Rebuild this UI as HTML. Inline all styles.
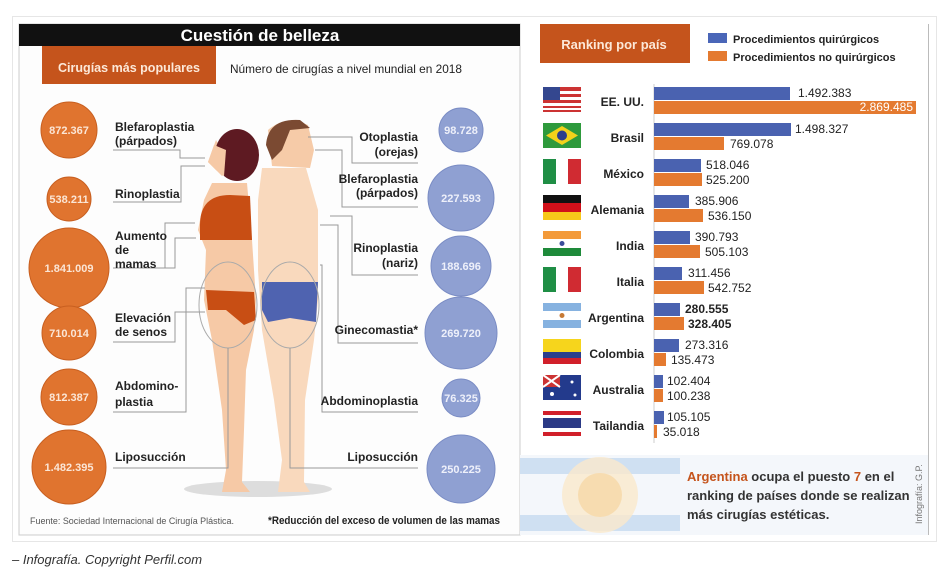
<!DOCTYPE html>
<html><head><meta charset="utf-8"><style>
body{margin:0;background:#fff;}
svg{display:block;font-family:"Liberation Sans",sans-serif;}
.b{font-weight:bold;}
</style></head><body>
<svg width="946" height="574" viewBox="0 0 946 574" xmlns="http://www.w3.org/2000/svg">
<rect x="0" y="0" width="946" height="574" fill="#fff"/>
<rect x="12.5" y="16.5" width="924" height="525" fill="#fff" stroke="#e6e6e6"/>
<!-- left panel -->
<rect x="19" y="24" width="501" height="511" fill="#fdfdfd" stroke="#ccc"/>
<rect x="19" y="24" width="501" height="22" fill="#111"/>
<text x="260" y="41" text-anchor="middle" fill="#fff" font-size="17" class="b">Cuestión de belleza</text>
<rect x="42" y="46" width="174" height="38" fill="#c5541c"/>
<text x="129" y="72" text-anchor="middle" fill="#fce8d8" font-size="13" class="b" textLength="142" lengthAdjust="spacingAndGlyphs">Cirugías más populares</text>
<text x="230" y="73" fill="#222" font-size="12" textLength="232" lengthAdjust="spacingAndGlyphs">Número de cirugías a nivel mundial en 2018</text>

<!-- figures -->
<ellipse cx="258" cy="489" rx="74" ry="8" fill="#ddd"/>
<!-- woman -->
<path d="M212 183 L247 183 L252 240 L256 300 L254 330 L246 370 L244 430 L242 482 L250 492 L222 492 L226 470 L222 410 L212 340 L204 300 L206 250 L198 230 L204 200 Z" fill="#f6c9a6"/>
<path d="M200 225 Q200 195 230 195 L250 196 L252 240 L200 240 Z" fill="#c84e14"/>
<path d="M206 290 L254 292 L256 320 L244 325 L226 310 L208 310 Z" fill="#c84e14"/>
<path d="M216 140 L208 162 L214 168 L222 176 L232 168 Z" fill="#f6c9a6"/>
<ellipse cx="237" cy="155" rx="22" ry="26" fill="#5e1a22"/>
<path d="M214 145 L208 162 L216 170 L224 176 L226 150 Z" fill="#f6c9a6"/>
<!-- man -->
<path d="M262 168 L306 168 L318 210 L318 300 L314 340 L305 400 L304 482 L310 492 L278 492 L282 460 L274 400 L262 330 L258 270 L258 200 Z" fill="#f9d9bd"/>
<path d="M262 282 L318 282 L316 322 L290 318 L268 322 L262 310 Z" fill="#4f63b0"/>
<path d="M268 130 Q285 115 308 125 L314 150 L310 168 L272 166 Z" fill="#f6cba8"/>
<path d="M266 145 Q268 118 300 120 L310 128 L290 130 L282 150 L272 160 Z" fill="#7b4a32"/>
<ellipse cx="228" cy="305" rx="29" ry="43" fill="none" stroke="#aaa"/>
<ellipse cx="290" cy="305" rx="29" ry="43" fill="none" stroke="#aaa"/>

<!-- leader lines -->
<g fill="none" stroke="#999" stroke-width="1">
<polyline points="113,150 180,150 180,158 205,158"/>
<polyline points="113,202 181,202 181,166 205,166"/>
<polyline points="113,268 165,268 165,223 195,223"/>
<polyline points="113,268 175,268 175,238 196,238"/>
<polyline points="113,342 175,342 175,312 205,312"/>
<polyline points="113,412 186,412 186,288 205,288"/>
<polyline points="113,468 228,468 228,348"/>
<polyline points="418,163 352,163 352,137 308,137"/>
<polyline points="418,207 342,207 342,150 315,150"/>
<polyline points="418,275 352,275 352,216 330,216"/>
<polyline points="418,343 338,343 338,225 320,225"/>
<polyline points="418,412 322,412 322,265 320,265"/>
<polyline points="418,468 290,468 290,348"/>
</g>
<!-- left labels -->
<g font-size="12" class="b" fill="#222">
<text x="115" y="131">Blefaroplastia</text><text x="115" y="145">(párpados)</text>
<text x="115" y="198">Rinoplastia</text>
<text x="115" y="240">Aumento</text><text x="115" y="254">de</text><text x="115" y="268">mamas</text>
<text x="115" y="322">Elevación</text><text x="115" y="336">de senos</text>
<text x="115" y="390">Abdomino-</text><text x="115" y="406">plastia</text>
<text x="115" y="461">Liposucción</text>
</g>
<g font-size="12" class="b" fill="#222" text-anchor="end">
<text x="418" y="141">Otoplastia</text><text x="418" y="156">(orejas)</text>
<text x="418" y="183">Blefaroplastia</text><text x="418" y="197">(párpados)</text>
<text x="418" y="252">Rinoplastia</text><text x="418" y="267">(nariz)</text>
<text x="418" y="334">Ginecomastia*</text>
<text x="418" y="405">Abdominoplastia</text>
<text x="418" y="461">Liposucción</text>
</g>
<!-- circles -->
<g fill="#e0742f" stroke="#c85f20">
<circle cx="69" cy="130" r="28"/><circle cx="69" cy="199" r="22"/><circle cx="69" cy="268" r="40"/>
<circle cx="69" cy="333" r="27"/><circle cx="69" cy="397" r="28"/><circle cx="69" cy="467" r="37"/>
</g>
<g fill="#8fa0d2" stroke="#7a8cc4">
<circle cx="461" cy="130" r="22"/><circle cx="461" cy="198" r="33"/><circle cx="461" cy="266" r="30"/>
<circle cx="461" cy="333" r="36"/><circle cx="461" cy="398" r="19"/><circle cx="461" cy="469" r="34"/>
</g>
<g font-size="11" class="b" fill="#fbe6d6" text-anchor="middle">
<text x="69" y="134">872.367</text><text x="69" y="203">538.211</text><text x="69" y="272">1.841.009</text>
<text x="69" y="337">710.014</text><text x="69" y="401">812.387</text><text x="69" y="471">1.482.395</text>
</g>
<g font-size="11" class="b" fill="#eef0fa" text-anchor="middle">
<text x="461" y="134">98.728</text><text x="461" y="202">227.593</text><text x="461" y="270">188.696</text>
<text x="461" y="337">269.720</text><text x="461" y="402">76.325</text><text x="461" y="473">250.225</text>
</g>
<text x="30" y="524" font-size="9" fill="#555" textLength="204" lengthAdjust="spacingAndGlyphs">Fuente: Sociedad Internacional de Cirugía Plástica.</text>
<text x="268" y="524" font-size="11" class="b" fill="#222" textLength="232" lengthAdjust="spacingAndGlyphs">*Reducción del exceso de volumen de las mamas</text>

<!-- right panel -->
<line x1="928.5" y1="24" x2="928.5" y2="535" stroke="#bbb"/>
<rect x="540" y="24" width="150" height="39" fill="#c5541c"/>
<text x="614" y="49" text-anchor="middle" fill="#fce8d8" font-size="13" class="b">Ranking por país</text>
<rect x="708" y="33" width="19" height="10" fill="#4a66b8"/>
<rect x="708" y="51" width="19" height="10" fill="#e47a30"/>
<text x="733" y="43" font-size="11" class="b" fill="#222">Procedimientos quirúrgicos</text>
<text x="733" y="61" font-size="11" class="b" fill="#222">Procedimientos no quirúrgicos</text>
<line x1="654" y1="84" x2="654" y2="443" stroke="#ccc"/>
<g font-size="12" class="b" fill="#222">
<rect x="654" y="87" width="136" height="13" fill="#4a62b0"/><rect x="654" y="101" width="262" height="13" fill="#e47a30"/>
<text x="798" y="97" font-weight="normal">1.492.383</text><text x="913" y="111" fill="#fff" text-anchor="end" font-weight="normal">2.869.485</text>
<text x="644" y="106" text-anchor="end">EE. UU.</text>
<rect x="654" y="123" width="137" height="13" fill="#4a62b0"/><rect x="654" y="137" width="70" height="13" fill="#e47a30"/>
<text x="795" y="133" font-weight="normal">1.498.327</text><text x="730" y="148" font-weight="normal">769.078</text>
<text x="644" y="142" text-anchor="end">Brasil</text>
<rect x="654" y="159" width="47" height="13" fill="#4a62b0"/><rect x="654" y="173" width="48" height="13" fill="#e47a30"/>
<text x="706" y="169" font-weight="normal">518.046</text><text x="706" y="184" font-weight="normal">525.200</text>
<text x="644" y="178" text-anchor="end">México</text>
<rect x="654" y="195" width="35" height="13" fill="#4a62b0"/><rect x="654" y="209" width="49" height="13" fill="#e47a30"/>
<text x="695" y="205" font-weight="normal">385.906</text><text x="708" y="220" font-weight="normal">536.150</text>
<text x="644" y="214" text-anchor="end">Alemania</text>
<rect x="654" y="231" width="36" height="13" fill="#4a62b0"/><rect x="654" y="245" width="46" height="13" fill="#e47a30"/>
<text x="695" y="241" font-weight="normal">390.793</text><text x="705" y="256" font-weight="normal">505.103</text>
<text x="644" y="250" text-anchor="end">India</text>
<rect x="654" y="267" width="28" height="13" fill="#4a62b0"/><rect x="654" y="281" width="50" height="13" fill="#e47a30"/>
<text x="688" y="277" font-weight="normal">311.456</text><text x="708" y="292" font-weight="normal">542.752</text>
<text x="644" y="286" text-anchor="end">Italia</text>
<rect x="654" y="303" width="26" height="13" fill="#4a62b0"/><rect x="654" y="317" width="30" height="13" fill="#e47a30"/>
<text x="685" y="313">280.555</text><text x="688" y="328">328.405</text>
<text x="644" y="322" text-anchor="end">Argentina</text>
<rect x="654" y="339" width="25" height="13" fill="#4a62b0"/><rect x="654" y="353" width="12" height="13" fill="#e47a30"/>
<text x="685" y="349" font-weight="normal">273.316</text><text x="671" y="364" font-weight="normal">135.473</text>
<text x="644" y="358" text-anchor="end">Colombia</text>
<rect x="654" y="375" width="9" height="13" fill="#4a62b0"/><rect x="654" y="389" width="9" height="13" fill="#e47a30"/>
<text x="667" y="385" font-weight="normal">102.404</text><text x="667" y="400" font-weight="normal">100.238</text>
<text x="644" y="394" text-anchor="end">Australia</text>
<rect x="654" y="411" width="10" height="13" fill="#4a62b0"/><rect x="654" y="425" width="3" height="13" fill="#e47a30"/>
<text x="667" y="421" font-weight="normal">105.105</text><text x="663" y="436" font-weight="normal">35.018</text>
<text x="644" y="430" text-anchor="end">Tailandia</text>
</g>
<!-- flags -->
<g>
<rect x="543" y="87" width="38" height="25" fill="#c33"/><rect x="543" y="91" width="38" height="3" fill="#fff"/><rect x="543" y="97" width="38" height="3" fill="#fff"/><rect x="543" y="103" width="38" height="3" fill="#fff"/><rect x="543" y="108" width="38" height="2" fill="#fff"/><rect x="543" y="87" width="17" height="13" fill="#34478f"/>
<rect x="543" y="123" width="38" height="25" fill="#2e9a3c"/><path d="M546 135.5 L562 126 L578 135.5 L562 145 Z" fill="#f2d21b"/><circle cx="562" cy="135.5" r="5" fill="#2b3f8c"/>
<rect x="543" y="159" width="13" height="25" fill="#1f8e45"/><rect x="556" y="159" width="12" height="25" fill="#fff"/><rect x="568" y="159" width="13" height="25" fill="#d02b32"/>
<rect x="543" y="195" width="38" height="8" fill="#111"/><rect x="543" y="203" width="38" height="9" fill="#d1101a"/><rect x="543" y="212" width="38" height="8" fill="#f7c81a"/>
<rect x="543" y="231" width="38" height="8" fill="#f39a3a"/><rect x="543" y="239" width="38" height="9" fill="#fff"/><rect x="543" y="248" width="38" height="8" fill="#1e8a3a"/><circle cx="562" cy="243.5" r="2.5" fill="#3a4c9a"/>
<rect x="543" y="267" width="13" height="25" fill="#1f8e45"/><rect x="556" y="267" width="12" height="25" fill="#fff"/><rect x="568" y="267" width="13" height="25" fill="#d02b32"/>
<rect x="543" y="303" width="38" height="8" fill="#86b2e0"/><rect x="543" y="311" width="38" height="9" fill="#fff"/><rect x="543" y="320" width="38" height="8" fill="#86b2e0"/><circle cx="562" cy="315.5" r="2.5" fill="#c77a35"/>
<rect x="543" y="339" width="38" height="13" fill="#f6d51c"/><rect x="543" y="352" width="38" height="6" fill="#2b3f8c"/><rect x="543" y="358" width="38" height="6" fill="#d1202a"/>
<rect x="543" y="375" width="38" height="25" fill="#233a8c"/><rect x="543" y="375" width="17" height="12" fill="#c33"/><path d="M543 375 L560 387 M560 375 L543 387" stroke="#fff" stroke-width="2"/><circle cx="552" cy="394" r="2" fill="#fff"/><circle cx="572" cy="382" r="1.5" fill="#fff"/><circle cx="575" cy="395" r="1.5" fill="#fff"/>
<rect x="543" y="411" width="38" height="25" fill="#fff"/><rect x="543" y="411" width="38" height="4" fill="#d1202a"/><rect x="543" y="418" width="38" height="10" fill="#2b3a86"/><rect x="543" y="432" width="38" height="4" fill="#d1202a"/>
</g>
<!-- bottom info -->
<rect x="520" y="455" width="408" height="80" fill="#f4f7fb"/>
<rect x="520" y="458" width="160" height="16" fill="#cfe0f2"/>
<rect x="520" y="515" width="160" height="16" fill="#cfe0f2"/>
<circle cx="600" cy="495" r="38" fill="#fae9cc" opacity="0.8"/>
<circle cx="600" cy="495" r="22" fill="#f7dcb0"/>
<text x="687" y="481" font-size="13" class="b" fill="#333"><tspan fill="#c5541c">Argentina</tspan> ocupa el puesto <tspan fill="#c5541c">7</tspan> en el</text>
<text x="687" y="500" font-size="13" class="b" fill="#333">ranking de países donde se realizan</text>
<text x="687" y="519" font-size="13" class="b" fill="#333">más cirugías estéticas.</text>
<text transform="translate(922,524) rotate(-90)" font-size="9" fill="#777">Infografía: G.P.</text>
<text x="12" y="564" font-size="13" font-style="italic" fill="#333">– Infografía. Copyright Perfil.com</text>
</svg>
</body></html>
